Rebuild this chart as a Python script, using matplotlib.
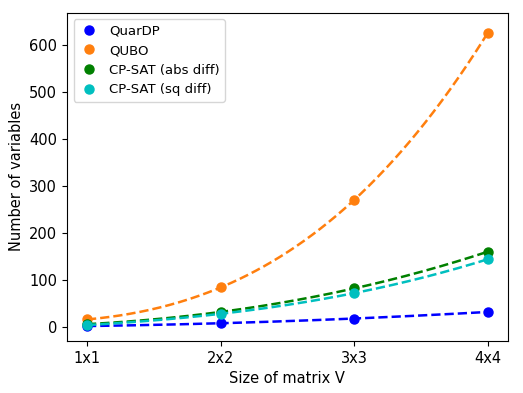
import numpy as np
import matplotlib
matplotlib.use("Agg")
import matplotlib.pyplot as plt

sizes = [1, 2, 3, 4]
size_labels = ["1x1", "2x2", "3x3", "4x4"]
quardp = [2, 8, 18, 32]
qubo = [16, 84, 270, 625]
cpsat_abs = [6, 32, 82, 160]
cpsat_sq = [4, 28, 72, 144]

series = [
    ("QuarDP", quardp, "b"),
    ("QUBO", qubo, "tab:orange"),
    ("CP-SAT (abs diff)", cpsat_abs, "g"),
    ("CP-SAT (sq diff)", cpsat_sq, "c"),
]

fig = plt.figure(figsize=(5.23, 3.93), dpi=100)
ax = fig.add_axes([0.128, 0.132, 0.843, 0.836])

xs = np.array(sizes, dtype=float)
xd = np.linspace(xs.min(), xs.max(), 200)
for name, vals, col in series:
    ax.plot(xs, vals, "o", color=col, label=name, markersize=6.5)
    coef = np.polyfit(xs, vals, 3)
    ax.plot(xd, np.polyval(coef, xd), "--", color=col, linewidth=1.8)

ax.set_ylim(-30, 668)
ax.set_xticks(sizes)
ax.set_xticklabels(size_labels)
ax.tick_params(labelsize=10.5)
ax.set_xlabel("Size of matrix V", fontsize=10.5)
ax.set_ylabel("Number of variables", fontsize=10.5)
ax.legend(loc="upper left", fontsize=9.5, handlelength=1.5)
fig.savefig("out.png", dpi=100)
